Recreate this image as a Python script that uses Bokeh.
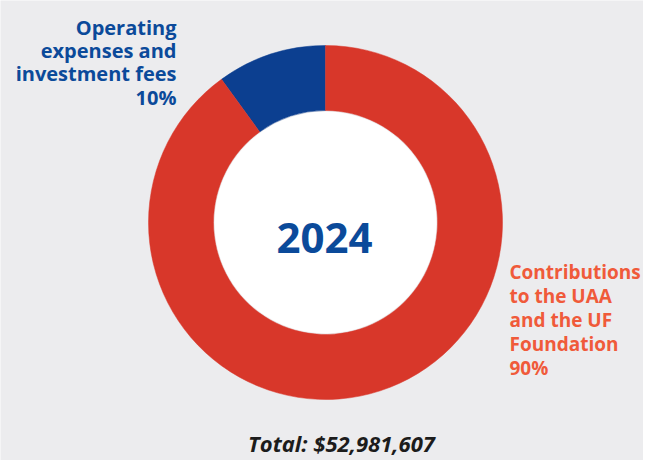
import math
from bokeh.plotting import figure
from bokeh.models import Range1d, ColumnDataSource
from bokeh.core.properties import value
from bokeh.embed import file_html
from bokeh.resources import INLINE

# ---- data ----
categories = ["Operating expenses and investment fees", "Contributions to the UAA and the UF Foundation"]
shares = [10, 90]
slice_colors = ["#0c3f90", "#d8372a"]
year_label = "2024"
total_label = "Total: $52,981,607"
left_label_lines = ["Operating", "expenses and", "investment fees", "10%"]
right_label_lines = ["Contributions", "to the UAA", "and the UF", "Foundation", "90%"]

W, H = 643, 460

p = figure(width=W, height=H, output_backend="svg", toolbar_location=None,
           x_range=Range1d(0, W), y_range=Range1d(H, 0),
           min_border=0, outline_line_color=None)
p.axis.visible = False
p.grid.visible = False
p.background_fill_color = "#ececee"
p.border_fill_color = "#ececee"

# donut
cx, cy = 325, 222
total = sum(shares)
starts, ends = [], []
a = math.pi / 2
for s in shares:
    starts.append(a)
    a += 2 * math.pi * s / total
    ends.append(a)
src = ColumnDataSource(dict(x=[cx] * len(shares), y=[cy] * len(shares),
                            start=starts, end=ends, color=slice_colors))
p.annular_wedge(x="x", y="y", inner_radius=112, outer_radius=177,
                inner_radius_units="screen", outer_radius_units="screen",
                start_angle="start", end_angle="end", direction="anticlock",
                fill_color="color", line_color="color", line_width=0.5, source=src)
p.circle(x=[cx], y=[cy], radius=111, radius_units="screen",
         fill_color="white", line_color=None)

# centre text
p.text(x=[cx - 1], y=[237], text=[year_label], text_align="center",
       text_baseline="alphabetic", text_font=value("Open Sans"),
       text_font_size="42px", text_font_style="bold", text_color="#0b4a9a")

# left label
left_y = [27, 50, 73, 97]
p.text(x=[176] * 4, y=left_y, text=left_label_lines,
       text_align="right", text_baseline="alphabetic", text_font=value("Open Sans"),
       text_font_size="20px", text_font_style="bold", text_color="#0b4a9a")

# right label
right_y = [271, 295, 319, 343, 367]
p.text(x=[509] * 5, y=right_y, text=right_label_lines,
       text_align="left", text_baseline="alphabetic", text_font=value("Open Sans"),
       text_font_size="19px", text_font_style="bold", text_color="#f05a3a")

# total
p.text(x=[341], y=[442], text=[total_label], text_align="center",
       text_baseline="alphabetic", text_font=value("Open Sans"),
       text_font_size="22px", text_font_style="bold italic", text_color="#1c1c1c")

open("out.html", "w").write(file_html(p, INLINE))
